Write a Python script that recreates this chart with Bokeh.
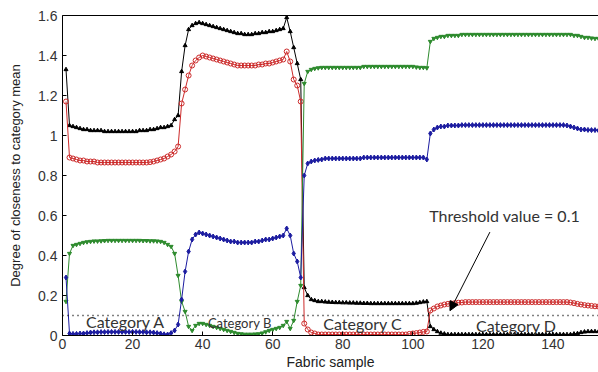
from bokeh.plotting import figure
from bokeh.models import Range1d, LinearAxis, FixedTicker, Span, Arrow, NormalHead, Label
from bokeh.embed import file_html
from bokeh.resources import INLINE

samples = list(range(1, 156))

black = [
    # Category A (1-33)
    1.33, 1.05, 1.045, 1.04, 1.035, 1.03, 1.03, 1.025, 1.025, 1.025,
    1.025, 1.02, 1.02, 1.02, 1.02, 1.02, 1.02, 1.02, 1.02, 1.02,
    1.02, 1.025, 1.025, 1.025, 1.03, 1.03, 1.035, 1.04, 1.04, 1.045,
    1.05, 1.08, 1.10,
    # Category B (34-68)
    1.32, 1.45, 1.53, 1.55, 1.56, 1.565, 1.56, 1.555, 1.55, 1.545,
    1.54, 1.535, 1.53, 1.525, 1.52, 1.515, 1.51, 1.51, 1.505, 1.505,
    1.505, 1.51, 1.51, 1.515, 1.515, 1.52, 1.52, 1.525, 1.53, 1.535,
    1.59, 1.52, 1.44, 1.36, 1.28,
    # Category C (69-104)
    0.24, 0.20, 0.18, 0.175, 0.17, 0.17, 0.168, 0.167, 0.166, 0.165,
    0.165, 0.164, 0.164, 0.163, 0.163, 0.162, 0.162, 0.161, 0.161, 0.16,
    0.16, 0.16, 0.16, 0.16, 0.16, 0.16, 0.16, 0.16, 0.16, 0.16,
    0.16, 0.16, 0.162, 0.165, 0.168, 0.17,
    # Category D (105-155)
    0.045, 0.03, 0.02, 0.012, 0.008, 0.005, 0.005, 0.005, 0.005, 0.005,
    0.005, 0.005, 0.005, 0.005, 0.005, 0.005, 0.005, 0.005, 0.005, 0.005,
    0.005, 0.005, 0.005, 0.005, 0.005, 0.005, 0.005, 0.005, 0.005, 0.005,
    0.005, 0.005, 0.005, 0.005, 0.005, 0.005, 0.005, 0.005, 0.005, 0.005,
    0.005, 0.008, 0.01, 0.015, 0.018, 0.02, 0.02, 0.02, 0.02, 0.02,
    0.02,
]

red = [
    # A
    1.17, 0.89, 0.885, 0.88, 0.875, 0.875, 0.87, 0.87, 0.87, 0.865,
    0.865, 0.865, 0.865, 0.865, 0.865, 0.865, 0.865, 0.865, 0.865, 0.865,
    0.865, 0.865, 0.865, 0.865, 0.867, 0.87, 0.875, 0.88, 0.885, 0.895,
    0.905, 0.92, 0.945,
    # B
    1.16, 1.23, 1.30, 1.35, 1.375, 1.39, 1.40, 1.395, 1.39, 1.385,
    1.38, 1.375, 1.37, 1.365, 1.36, 1.355, 1.35, 1.35, 1.35, 1.35,
    1.35, 1.35, 1.355, 1.355, 1.36, 1.36, 1.365, 1.37, 1.375, 1.38,
    1.42, 1.37, 1.28, 1.25, 1.17,
    # C
    0.06, 0.03, 0.015, 0.01, 0.005, 0.005, 0.005, 0.005, 0.005, 0.005,
    0.005, 0.005, 0.005, 0.005, 0.005, 0.005, 0.005, 0.005, 0.005, 0.005,
    0.005, 0.005, 0.005, 0.005, 0.005, 0.005, 0.005, 0.005, 0.005, 0.005,
    0.008, 0.01, 0.012, 0.015, 0.018, 0.02,
    # D
    0.125, 0.135, 0.145, 0.15, 0.155, 0.158, 0.16, 0.162, 0.164, 0.165,
    0.167, 0.167, 0.167, 0.167, 0.167, 0.167, 0.167, 0.167, 0.167, 0.167,
    0.167, 0.167, 0.167, 0.167, 0.167, 0.167, 0.167, 0.167, 0.167, 0.167,
    0.167, 0.167, 0.167, 0.167, 0.167, 0.167, 0.167, 0.167, 0.167, 0.167,
    0.165, 0.162, 0.158, 0.155, 0.152, 0.15, 0.148, 0.146, 0.145, 0.145,
    0.145,
]

green = [
    # A
    0.17, 0.41, 0.45, 0.455, 0.46, 0.465, 0.468, 0.47, 0.472, 0.472,
    0.473, 0.474, 0.475, 0.475, 0.475, 0.475, 0.475, 0.475, 0.475, 0.475,
    0.475, 0.475, 0.474, 0.474, 0.473, 0.473, 0.472, 0.47, 0.465, 0.455,
    0.445, 0.41, 0.30,
    # B
    0.17, 0.12, 0.045, 0.025, 0.05, 0.06, 0.06, 0.055, 0.05, 0.045,
    0.04, 0.035, 0.03, 0.025, 0.02, 0.015, 0.01, 0.008, 0.006, 0.006,
    0.006, 0.007, 0.008, 0.012, 0.018, 0.025, 0.03, 0.035, 0.04, 0.05,
    0.07, 0.035, 0.075, 0.17, 0.25,
    # C
    1.26, 1.32, 1.33, 1.335, 1.338, 1.34, 1.34, 1.34, 1.34, 1.34,
    1.34, 1.34, 1.34, 1.34, 1.34, 1.34, 1.34, 1.345, 1.345, 1.345,
    1.345, 1.345, 1.345, 1.345, 1.345, 1.345, 1.345, 1.345, 1.345, 1.345,
    1.345, 1.345, 1.342, 1.34, 1.34, 1.338,
    # D
    1.47, 1.485, 1.49, 1.495, 1.495, 1.50, 1.50, 1.50, 1.50, 1.505,
    1.505, 1.505, 1.505, 1.505, 1.505, 1.505, 1.505, 1.505, 1.505, 1.505,
    1.505, 1.505, 1.505, 1.505, 1.505, 1.505, 1.505, 1.505, 1.505, 1.505,
    1.505, 1.505, 1.505, 1.505, 1.505, 1.505, 1.505, 1.505, 1.505, 1.505,
    1.505, 1.50, 1.50, 1.495, 1.49, 1.49, 1.487, 1.485, 1.485, 1.48,
    1.48,
]

blue = [
    # A
    0.29, 0.01, 0.008, 0.008, 0.01, 0.01, 0.012, 0.015, 0.016, 0.016,
    0.017, 0.017, 0.018, 0.018, 0.018, 0.018, 0.018, 0.018, 0.018, 0.018,
    0.018, 0.017, 0.017, 0.016, 0.016, 0.015, 0.012, 0.01, 0.006, 0.005,
    0.012, 0.025, 0.055,
    # B
    0.18, 0.32, 0.42, 0.48, 0.505, 0.515, 0.51, 0.505, 0.50, 0.495,
    0.49, 0.485, 0.48, 0.475, 0.47, 0.47, 0.465, 0.465, 0.465, 0.465,
    0.465, 0.47, 0.47, 0.475, 0.48, 0.48, 0.485, 0.49, 0.495, 0.50,
    0.535, 0.50, 0.41, 0.37, 0.29,
    # C
    0.80, 0.86, 0.87, 0.875, 0.878, 0.88, 0.885, 0.885, 0.885, 0.885,
    0.885, 0.885, 0.885, 0.885, 0.885, 0.885, 0.885, 0.89, 0.89, 0.89,
    0.89, 0.89, 0.89, 0.89, 0.89, 0.89, 0.89, 0.89, 0.89, 0.89,
    0.89, 0.89, 0.89, 0.89, 0.89, 0.88,
    # D
    1.01, 1.03, 1.04, 1.045, 1.045, 1.05, 1.05, 1.05, 1.05, 1.052,
    1.052, 1.052, 1.052, 1.052, 1.052, 1.052, 1.052, 1.052, 1.052, 1.052,
    1.052, 1.052, 1.052, 1.052, 1.052, 1.052, 1.052, 1.052, 1.052, 1.052,
    1.052, 1.052, 1.052, 1.052, 1.052, 1.052, 1.052, 1.052, 1.052, 1.05,
    1.045, 1.04, 1.035, 1.03, 1.03, 1.028, 1.027, 1.027, 1.025, 1.025,
    1.025,
]

x_ticks = [0, 20, 40, 60, 80, 100, 120, 140]
y_ticks = [0, 0.2, 0.4, 0.6, 0.8, 1.0, 1.2, 1.4, 1.6]
y_tick_labels = ["0", "0.2", "0.4", "0.6", "0.8", "1", "1.2", "1.4", "1.6"]
threshold = 0.1
category_labels = ["Category A", "Category B", "Category C", "Category D"]
category_pos = [(18, 0.07), (50.6, 0.065), (85.7, 0.06), (129.5, 0.05)]
category_sizes = ["16px", "13px", "16px", "16px"]

p = figure(width=598, height=372, output_backend="svg", toolbar_location=None,
           x_range=Range1d(0, 153), y_range=Range1d(0, 1.6),
           min_border_left=62, min_border_top=15, min_border_bottom=35, min_border_right=0)
p.grid.visible = False
p.outline_line_color = None
p.background_fill_color = "white"
p.border_fill_color = "white"

for ax in (p.xaxis[0], p.yaxis[0]):
    ax.major_tick_in = 4
    ax.major_tick_out = 0
    ax.minor_tick_line_color = None
    ax.axis_line_color = "black"
    ax.major_tick_line_color = "black"
    ax.major_label_text_font = "Liberation Sans"
    ax.major_label_text_font_size = "14px"
    ax.major_label_text_color = "#333333"
    ax.axis_label_text_font = "Liberation Sans"
    ax.axis_label_text_font_style = "normal"
    ax.axis_label_text_color = "#222222"

p.xaxis.ticker = FixedTicker(ticks=x_ticks)
p.yaxis.ticker = FixedTicker(ticks=y_ticks)
p.yaxis.major_label_overrides = {t: l for t, l in zip(y_ticks, y_tick_labels)}
p.xaxis.axis_label = "Fabric sample"
p.yaxis.axis_label = "Degree of closeness to category mean"
p.xaxis.axis_label_text_font_size = "14px"
p.yaxis.axis_label_text_font_size = "13px"
p.xaxis.major_label_standoff = 3
p.yaxis.major_label_standoff = 5
p.xaxis.axis_label_standoff = 2
p.yaxis.axis_label_standoff = 12

top = LinearAxis(ticker=FixedTicker(ticks=[]), minor_tick_line_color=None,
                 axis_line_color="black")
p.add_layout(top, "above")

series = [
    (black, "black", "triangle", 4, "black"),
    (red, "#cc2a2a", "circle", 5, None),
    (green, "#2e8b2e", "inverted_triangle", 4, "#2e8b2e"),
    (blue, "#1c1ca0", "diamond", 5, "#1c1ca0"),
]
for ys, col, mk, sz, fill in series:
    p.line(samples, ys, line_color=col, line_width=1)
    p.scatter(samples, ys, marker=mk, size=sz, line_color=col,
              fill_color=fill if fill else None, line_width=1)

p.add_layout(Span(location=threshold, dimension="width", line_color="black",
                  line_dash="1 4", line_width=1.5))

for txt, (cx, cy), fs in zip(category_labels, category_pos, category_sizes):
    p.add_layout(Label(x=cx, y=cy, text=txt, text_align="center", text_baseline="middle",
                       text_font="Lato", text_font_size=fs, text_color="#333333"))

p.add_layout(Label(x=126.2, y=0.60, text="Threshold value = 0.1", text_align="center",
                   text_baseline="middle", text_font="Lato", text_font_size="16px",
                   text_color="#333333"))
p.add_layout(Arrow(x_start=122, y_start=0.517, x_end=110.6, y_end=0.124,
                   line_color="black", line_width=1,
                   end=NormalHead(size=9, fill_color="black", line_color="black")))

open("out.html", "w").write(file_html(p, INLINE))
